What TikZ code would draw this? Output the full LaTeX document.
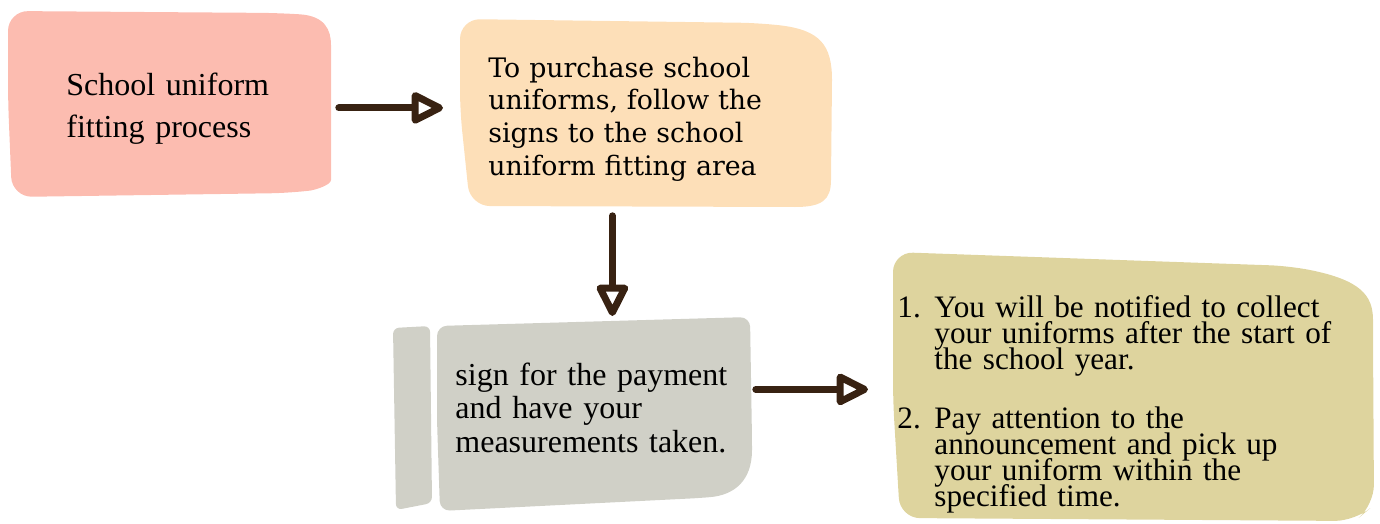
\documentclass[tikz,border=0pt]{standalone}
\usepackage{fontspec}
\setmainfont{Liberation Serif}
\newfontfamily\signfont{DejaVu Serif}
\usetikzlibrary{arrows.meta,positioning}
\definecolor{boxpink}{RGB}{252,188,176}
\definecolor{boxpeach}{RGB}{253,223,184}
\definecolor{boxgray}{RGB}{208,208,199}
\definecolor{boxolive}{RGB}{222,212,158}
\definecolor{arrowbrown}{RGB}{56,34,18}
\newcommand\tightlines{\lineskiplimit-20pt\relax}

\tikzset{
  stepbox/.style={anchor=north west, inner ysep=0pt, align=left},
  blob/.style={rounded corners=10pt},
  flow/.style={line width=3.5pt, draw=arrowbrown, line cap=round,
    -{Triangle[open, round, length=18pt, width=17pt]}},
}

\begin{document}
\begin{tikzpicture}[x=0.5pt, y=-0.5pt]
    \useasboundingbox (0,0) rectangle (1380,524);

    % hand-drawn looking backgrounds
    \fill[blob, boxpink] (8,100) -- (8,11) -- (280,13) .. controls (325,16) and (331,30) .. (331,65)
      -- (331,160) .. controls (331,185) and (315,190) .. (290,193) -- (12,197) -- cycle;
    \fill[boxpeach] (460,110) [rounded corners=10pt] -- (460,19) -- (760,23) [sharp corners]
      .. controls (820,30) and (832,45) .. (832,80) -- (831,180)
      .. controls (831,200) and (822,207) .. (795,207) [rounded corners=10pt] -- (470,206) -- cycle;
    \fill[boxgray, rounded corners=3pt] (393,328) -- (430,326) -- (432,503) -- (396,510) -- cycle;
    \fill[boxgray, rounded corners=5pt] (437,420) -- (437,326) -- (750,317) -- (752,440)
      .. controls (752,480) and (735,495) .. (700,498) -- (440,511) -- cycle;
    \fill[blob, boxolive] (893,400) -- (893,252) -- (1290,266) .. controls (1360,280) and (1373,295) .. (1373,340)
      -- (1374,505) -- (1355,521) -- (900,518) -- cycle;

    \node[stepbox, inner xsep=29pt, text width=103pt,
      text height=42.5pt, text depth=51pt, font=\fontsize{16}{21}\selectfont]
      (intro) at (8,10) {School uniform\\fitting process};
    \node[stepbox, inner xsep=14pt, text width=158pt,
      text height=29.5pt, text depth=65.5pt, font=\signfont\fontsize{13.4}{16.3}\selectfont]
      (signs) at (460,18) {To purchase school\\uniforms, follow the\\signs to the school\\uniform fitting area};
    \node[stepbox, inner xsep=9pt, text width=138.5pt,
      text height=33.5pt, text depth=61.5pt, font=\fontsize{16}{16.75}\selectfont]
      (payment) at (437,318) {sign for the payment\\and have your\\measurements taken.};
    \node[stepbox, inner xsep=2pt, text width=238.5pt,
      text height=33.5pt, text depth=101.5pt, font=\fontsize{15.6}{13}\selectfont\tightlines]
      (collect) at (893,250) {\makebox[18.5pt][l]{1.}You will be notified to collect\\
      \hspace*{18.5pt}your uniforms after the start of\\
      \hspace*{18.5pt}the school year.\\[16.5pt]
      \makebox[18.5pt][l]{2.}Pay attention to the\\
      \hspace*{18.5pt}announcement and pick up\\
      \hspace*{18.5pt}your uniform within the\\
      \hspace*{18.5pt}specified time.};

    \draw[flow, shorten <=4pt, shorten >=8.5pt] ([yshift=-2pt]intro.east) -- ([yshift=-2pt]intro.east -| signs.west);
    \draw[flow, shorten <=3.5pt, shorten >=1pt] ([xshift=-17pt]signs.south) -- ([xshift=-17pt]signs.south |- payment.north);
    \draw[flow, shorten <=2.5pt, shorten >=12.5pt] ([yshift=12pt]payment.east) -- ([yshift=12pt]payment.east -| collect.west);
\end{tikzpicture}
\end{document}
